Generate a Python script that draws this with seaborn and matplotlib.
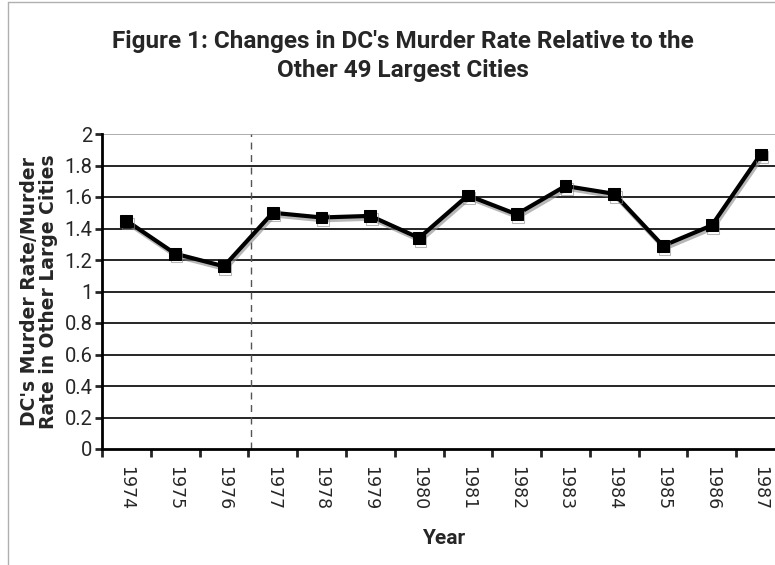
import matplotlib
matplotlib.use("Agg")
import matplotlib.pyplot as plt
import matplotlib.patheffects as pe
from matplotlib.ticker import FixedLocator
import pandas as pd
import seaborn as sns

# Data
years = [1974, 1975, 1976, 1977, 1978, 1979, 1980, 1981, 1982, 1983, 1984, 1985, 1986, 1987]
ratio = [1.45, 1.24, 1.16, 1.50, 1.47, 1.48, 1.34, 1.61, 1.49, 1.67, 1.62, 1.29, 1.42, 1.87]
yticks = [0, 0.2, 0.4, 0.6, 0.8, 1, 1.2, 1.4, 1.6, 1.8, 2]
ytick_labels = ['0', '0.2', '0.4', '0.6', '0.8', '1', '1.2', '1.4', '1.6', '1.8', '2']

df = pd.DataFrame({'Year': years, 'Ratio': ratio})

sns.set_style('white')
narrow = ['Roboto', 'DejaVu Sans']
plt.rcParams['font.family'] = ['DejaVu Sans']

fig = plt.figure(figsize=(7.75, 5.65), dpi=100)
ax = fig.add_axes([102 / 775, 116 / 565, 683 / 775, 315 / 565])

# light border of the original frame
fig.add_artist(plt.Line2D([8 / 775, 8 / 775], [0, 563 / 565], color='#b0b0b0', lw=1))
fig.add_artist(plt.Line2D([8 / 775, 1], [563 / 565, 563 / 565], color='#b0b0b0', lw=1))

for v in yticks[1:]:
    ax.axhline(v, color='#a0a0a0' if v == 2 else 'black', lw=1.2, zorder=1)

ax.axvline(1976.55, color='#555555', lw=1, ls=(0, (5, 4)), zorder=1)

sns.lineplot(data=df, x='Year', y='Ratio', ax=ax, color='black', lw=3,
             marker='s', markersize=8.5, markeredgecolor='black', zorder=3,
             path_effects=[pe.SimpleLineShadow(offset=(1, -2), shadow_color='#888888', alpha=0.6),
                           pe.Normal()])

ax.set_xlim(1973.5, 1987.5)
ax.set_ylim(0, 2)
ax.set_yticks(yticks)
ax.set_yticklabels(ytick_labels, family=narrow, fontsize=14.5)
ax.set_xticks(years)
ax.set_xticklabels([str(y) for y in years], rotation=-90, fontsize=12.5)
ax.xaxis.set_minor_locator(FixedLocator([1973.5 + k for k in range(15)]))
ax.tick_params(axis='x', which='major', length=0, pad=12)
ax.tick_params(axis='x', which='minor', length=6, width=2, direction='out', bottom=True)
ax.tick_params(axis='y', length=5, width=2, direction='out', left=True, pad=2)

for s in ['top', 'right']:
    ax.spines[s].set_visible(False)
for s in ['left', 'bottom']:
    ax.spines[s].set_linewidth(2)
    ax.spines[s].set_color('black')

ax.set_xlabel('Year', family=narrow, fontsize=15, fontweight='bold', labelpad=14)
ax.set_ylabel("DC's Murder Rate/Murder\nRate in Other Large Cities",
              fontsize=13.5, fontweight='bold', linespacing=1.0)
ax.yaxis.set_label_coords(-0.064, 0.5)

fig.text(403 / 775, 509 / 565, "Figure 1: Changes in DC's Murder Rate Relative to the\nOther 49 Largest Cities",
         ha='center', va='center', family=narrow, fontsize=17.5, fontweight='bold', linespacing=1.3)

fig.savefig('out.png', dpi=100)
